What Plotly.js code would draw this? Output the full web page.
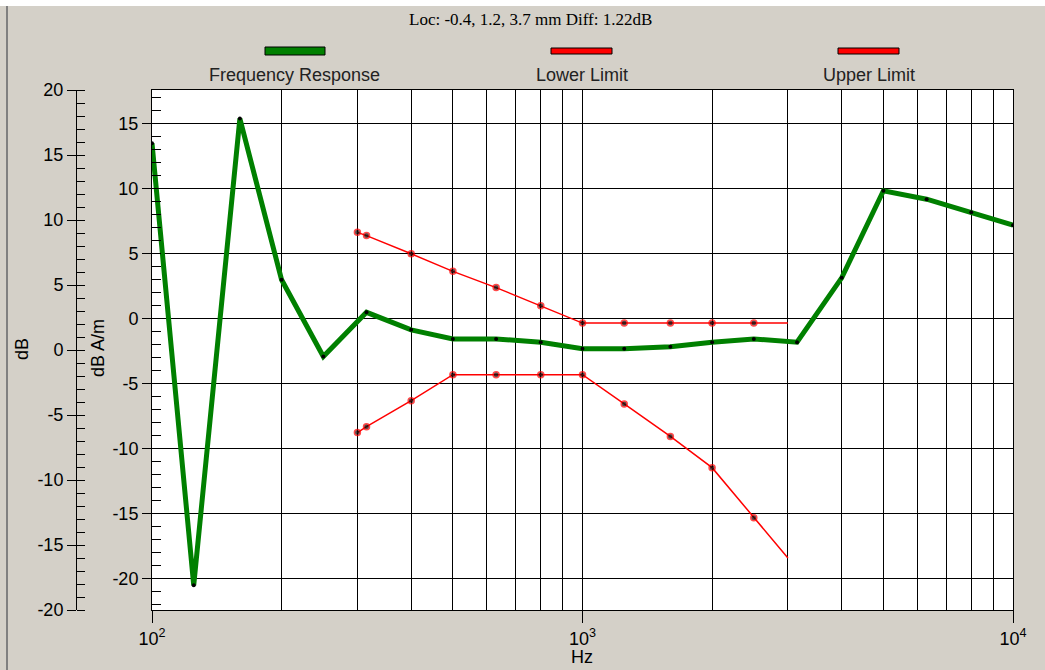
<!DOCTYPE html>
<html><head><meta charset="utf-8">
<script src="https://cdn.plot.ly/plotly-3.0.1.min.js"></script>
<style>html,body{margin:0;padding:0;background:#d4d0c8;}#chart{width:1045px;height:670px;}</style>
</head><body><div id="chart"></div>
<script>
// ---- data ----
const respFreq = [100,125,160,200,250,315,400,500,630,800,1000,1250,1600,2000,2500,3150,4000,5000,6300,8000,10000];
const respDb   = [13.5,-20.5,15.4,3.0,-2.9,0.5,-0.85,-1.55,-1.55,-1.8,-2.3,-2.3,-2.15,-1.8,-1.55,-1.8,3.15,9.85,9.2,8.2,7.2];
const limFreq  = [300,315,400,500,630,800,1000,1250,1600,2000,2500,3000];
const lowerDb  = [-8.75,-8.3,-6.3,-4.3,-4.3,-4.3,-4.3,-6.55,-9.05,-11.45,-15.3,-18.4];
const upperDb  = [6.65,6.4,5.0,3.65,2.4,1.0,-0.33,-0.33,-0.33,-0.33,-0.33,-0.33];
const xTickVals = [100,1000,10000];
const xTickText = ['10<sup>2</sup>','10<sup>3</sup>','10<sup>4</sup>'];
const xGridVals = [200,300,400,500,600,700,800,900,2000,3000,4000,5000,6000,7000,8000,9000];
const innerTickVals = [-20,-15,-10,-5,0,5,10,15];
const innerTickText = ['-20','-15','-10','-5','0','5','10','15'];
const outerTickVals = [-20,-15,-10,-5,0,5,10,15,20];
const outerTickText = ['-20','-15','-10','-5','0','5','10','15','20'];
const seriesNames = ['Frequency Response','Lower Limit','Upper Limit'];
const titleText = 'Loc: -0.4, 1.2, 3.7 mm Diff: 1.22dB';
const xTitle = 'Hz';
const yInnerTitle = 'dB A/m';
const yOuterTitle = 'dB';

// ---- geometry helpers (pixel -> paper) ----
const W = 1045, H = 670, ML = 76, MR = 32, MT = 90, MB = 60;
const PW = W - ML - MR, PH = H - MT - MB;
const px = x => (x - ML) / PW;
const py = y => (H - MB - y) / PH;

const FONT = 'Liberation Sans, Arial, sans-serif';
const green = '#008000', red = '#ff0000';

const limMarkerSize = limFreq.map((f, i) => i === limFreq.length - 1 ? 0 : 6);

const traces = [
  {x: respFreq, y: respDb, name: seriesNames[0], type: 'scatter', mode: 'lines+markers',
   line: {color: green, width: 5}, marker: {color: '#000', size: 4}, xaxis: 'x', yaxis: 'y', showlegend: false},
  {x: limFreq, y: lowerDb, name: seriesNames[1], type: 'scatter', mode: 'lines+markers',
   line: {color: red, width: 1.5}, marker: {color: '#000', size: limMarkerSize, line: {color: red, width: 1.5}},
   xaxis: 'x', yaxis: 'y', showlegend: false},
  {x: limFreq, y: upperDb, name: seriesNames[2], type: 'scatter', mode: 'lines+markers',
   line: {color: red, width: 1.5}, marker: {color: '#000', size: limMarkerSize, line: {color: red, width: 1.5}},
   xaxis: 'x', yaxis: 'y', showlegend: false},
  // empty helper traces so the outer dB axis gets created
  {x: [null], y: [null], type: 'scatter', mode: 'lines', xaxis: 'x', yaxis: 'y2', showlegend: false, hoverinfo: 'skip'},
  {x: [null], y: [null], type: 'scatter', mode: 'lines', xaxis: 'x', yaxis: 'y3', showlegend: false, hoverinfo: 'skip'}
];

const tickFont = {family: FONT, size: 18, color: '#000'};

const layout = {
  width: W, height: H,
  margin: {l: ML, r: MR, t: MT, b: MB, pad: 0},
  paper_bgcolor: '#d4d0c8', plot_bgcolor: '#ffffff',
  showlegend: false,
  xaxis: {
    type: 'log', range: [2, 4], domain: [px(152), 1],
    tickmode: 'array', tickvals: xTickVals, ticktext: xTickText,
    ticks: 'outside', ticklen: 12, tickcolor: '#000', tickwidth: 1,
    showgrid: true, gridcolor: '#000', gridwidth: 1,
    minor: {tickmode: 'array', tickvals: xGridVals, showgrid: true, gridcolor: '#000', gridwidth: 1, ticks: ''},
    showline: true, linecolor: '#000', linewidth: 1, mirror: true,
    zeroline: false, tickfont: tickFont, fixedrange: true
  },
  yaxis: {
    range: [-22.4, 17.6], tickmode: 'array', tickvals: innerTickVals, ticktext: innerTickText,
    ticks: 'outside', ticklen: 9, tickcolor: '#000',
    minor: {tickmode: 'linear', dtick: 1, tick0: 0, ticks: 'inside', ticklen: 9, tickcolor: '#000', showgrid: false},
    showgrid: true, gridcolor: '#000', gridwidth: 1,
    showline: true, linecolor: '#000', linewidth: 1, mirror: true,
    zeroline: false, tickfont: tickFont, fixedrange: true
  },
  yaxis2: {
    overlaying: 'y', anchor: 'free', position: 0, side: 'left',
    range: [-20, 20], tickmode: 'array', tickvals: outerTickVals, ticktext: outerTickText,
    ticks: 'outside', ticklen: 9, tickcolor: '#000',
    minor: {tickmode: 'linear', dtick: 1, tick0: 0, ticks: 'inside', ticklen: 8, tickcolor: '#000', showgrid: false},
    showgrid: false, showline: true, linecolor: '#000', linewidth: 1,
    zeroline: false, tickfont: tickFont, fixedrange: true
  },
  yaxis3: {
    overlaying: 'y', anchor: 'free', position: 0, side: 'left',
    range: [-20, 20], tickmode: 'array', tickvals: outerTickVals,
    ticks: 'inside', ticklen: 8, tickcolor: '#000', showticklabels: false,
    showgrid: false, showline: false, zeroline: false, fixedrange: true
  },
  shapes: [
    {type: 'rect', xref: 'paper', yref: 'paper', x0: px(0), x1: px(W), y0: py(0), y1: py(6),
     fillcolor: '#ffffff', line: {width: 0}, layer: 'below'},
    {type: 'line', xref: 'paper', yref: 'paper', x0: px(7), x1: px(7), y0: py(6), y1: py(H),
     line: {color: '#808080', width: 2}},
    {type: 'rect', xref: 'paper', yref: 'paper', x0: px(265), x1: px(325), y0: py(55), y1: py(47),
     fillcolor: green, line: {color: '#000', width: 1}},
    {type: 'rect', xref: 'paper', yref: 'paper', x0: px(551), x1: px(612), y0: py(54), y1: py(48),
     fillcolor: red, line: {color: '#000', width: 1}},
    {type: 'rect', xref: 'paper', yref: 'paper', x0: px(838), x1: px(899), y0: py(54), y1: py(48),
     fillcolor: red, line: {color: '#000', width: 1}}
  ],
  annotations: [
    {text: titleText, xref: 'paper', yref: 'paper', x: px(530), y: py(19), showarrow: false,
     xanchor: 'center', yanchor: 'middle', font: {family: 'Liberation Serif, Times New Roman, serif', size: 17, color: '#000'}},
    {text: seriesNames[0], xref: 'paper', yref: 'paper', x: px(294), y: py(75), showarrow: false,
     xanchor: 'center', yanchor: 'middle', font: {family: FONT, size: 18, color: '#222'}},
    {text: seriesNames[1], xref: 'paper', yref: 'paper', x: px(582), y: py(75), showarrow: false,
     xanchor: 'center', yanchor: 'middle', font: {family: FONT, size: 18, color: '#222'}},
    {text: seriesNames[2], xref: 'paper', yref: 'paper', x: px(869), y: py(75), showarrow: false,
     xanchor: 'center', yanchor: 'middle', font: {family: FONT, size: 18, color: '#222'}},
    {text: xTitle, xref: 'paper', yref: 'paper', x: px(582), y: py(657), showarrow: false,
     xanchor: 'center', yanchor: 'middle', font: {family: FONT, size: 18, color: '#000'}},
    {text: yOuterTitle, xref: 'paper', yref: 'paper', x: px(22), y: py(349), showarrow: false, textangle: -90,
     xanchor: 'center', yanchor: 'middle', font: {family: FONT, size: 18, color: '#000'}},
    {text: yInnerTitle, xref: 'paper', yref: 'paper', x: px(98), y: py(348), showarrow: false, textangle: -90,
     xanchor: 'center', yanchor: 'middle', font: {family: FONT, size: 18, color: '#000'}}
  ]
};

Plotly.newPlot('chart', traces, layout, {displayModeBar: false, staticPlot: true});
</script>
</body></html>
